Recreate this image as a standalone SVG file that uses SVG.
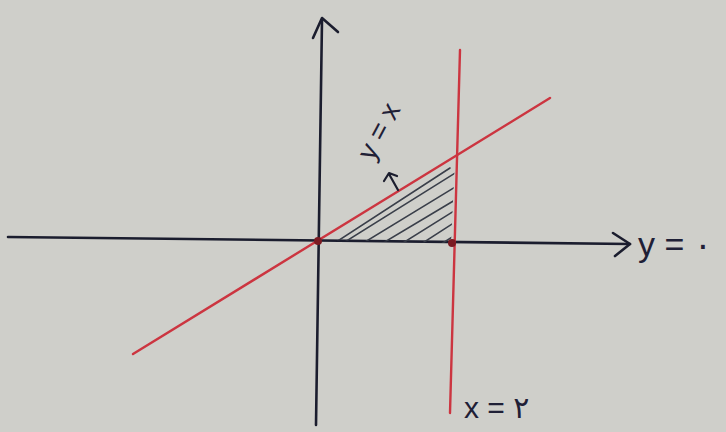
<svg xmlns="http://www.w3.org/2000/svg" width="726" height="432" viewBox="0 0 726 432">
<defs>
<style>
.ax{stroke:#1b1d2e;stroke-width:2.6;fill:none;stroke-linecap:round;stroke-linejoin:round}
.red{stroke:#cc3540;stroke-width:2.4;fill:none;stroke-linecap:round}
.hat{stroke:#3a3f4a;stroke-width:1.6;fill:none;stroke-linecap:round}
.lbl{font-family:"Liberation Sans","DejaVu Sans",sans-serif;fill:#1f2036}
</style>
<clipPath id="tri"><polygon points="326,240 451,243 455,160"/></clipPath>
</defs>
<rect width="726" height="432" fill="#cfcfca"/>
<g id="connectors">
<g id="x-axis"><path class="ax" d="M8,237 L630,244"/><path class="ax" d="M613,233 L630,244 L615,256"/></g>
<g id="y-axis"><path class="ax" d="M316,425 L322,20"/><path class="ax" d="M313,38 L322,18 L338,32"/></g>
<g id="line-yx"><path class="red" d="M133,354 L550,98"/></g>
<g id="line-x2"><path class="red" d="M460,50 L450,413"/></g>
</g>
<g id="region">
<g clip-path="url(#tri)">
<path class="hat" d="M340,245 L460,170 M360,245 L470,178 M378,246 L475,188 M398,246 L478,196 M418,246 L480,206 M438,246 L482,218 M460,246 L484,230 M330,246 L450,168"/>
</g>
<path class="ax" d="M398,190 L389,174 M384,181 L389,173 L397,176" style="stroke-width:2.2"/>
</g>
<g id="origin"><circle cx="318" cy="241" r="4" fill="#7a1a22"/></g>
<g id="point-2"><circle cx="452" cy="243" r="4" fill="#7a1a22"/></g>
<g id="label-yx"><text class="lbl" font-size="28" transform="translate(373,162) rotate(-62)">y = x</text></g>
<g id="label-y0"><text class="lbl" font-size="34" x="638" y="256">y = ۰</text></g>
<g id="label-x2"><text class="lbl" font-size="30" x="464" y="418">x = ۲</text></g>
</svg>
